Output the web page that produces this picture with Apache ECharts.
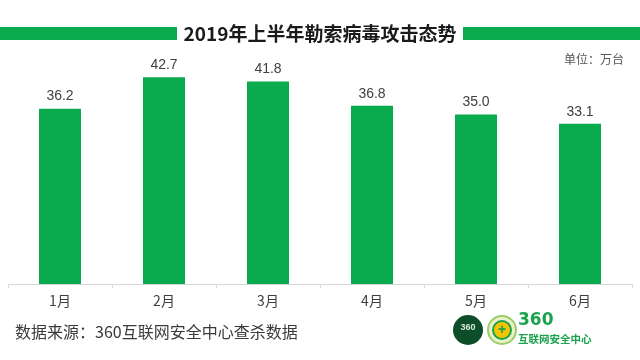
<!DOCTYPE html>
<html>
<head>
<meta charset="utf-8">
<script src="https://cdn.jsdelivr.net/npm/echarts@6/dist/echarts.min.js"></script>
<style>
html,body{margin:0;padding:0;background:#fff;}
#c{width:640px;height:360px;}
</style>
</head>
<body>
<div id="c"></div>
<script>
var titleText = '2019年上半年勒索病毒攻击态势';
var unitText = '单位：万台';
var sourceText = '数据来源：360互联网安全中心查杀数据';
var categories = ['1月','2月','3月','4月','5月','6月'];
var values = [36.2, 42.7, 41.8, 36.8, 35.0, 33.1];

var GREEN = '#0AAA4E';
var chart = echarts.init(document.getElementById('c'), null, {renderer:'canvas'});
var CJK = '"Noto Sans CJK SC","Noto Sans",sans-serif';
chart.setOption({
  backgroundColor:'#fff',
  animation:false,
  grid:{left:8,right:8,top:66,bottom:76},
  xAxis:{
    type:'category',
    data:categories,
    axisLine:{lineStyle:{color:'#d9d9d9',width:1}},
    axisTick:{show:true,length:4,lineStyle:{color:'#d9d9d9'}},
    axisLabel:{color:'#404040',fontSize:14,margin:10,fontFamily:CJK}
  },
  yAxis:{type:'value',min:0,max:45,show:false,splitLine:{show:false}},
  series:[{
    type:'bar',
    data:values,
    barWidth:42,
    itemStyle:{color:GREEN},
    label:{show:true,position:'top',distance:5,color:'#404040',fontSize:14,fontFamily:'"Liberation Sans",sans-serif',
      formatter:function(p){return p.value.toFixed(1);}}
  }],
  graphic:[
    {type:'rect',left:0,top:27,shape:{width:177,height:13},style:{fill:GREEN}},
    {type:'rect',left:463,top:27,shape:{width:177,height:13},style:{fill:GREEN}},
    {type:'text',x:320,y:34,style:{text:titleText,fill:'#1a1a1a',font:'bold 19px '+CJK,textAlign:'center',textVerticalAlign:'middle'}},
    {type:'text',x:624,y:59,style:{text:unitText,fill:'#555',font:'12px '+CJK,textAlign:'right',textVerticalAlign:'middle'}},
    {type:'text',x:15,y:332,style:{text:sourceText,fill:'#3a3a3a',font:'16px '+CJK,textAlign:'left',textVerticalAlign:'middle'}},
    {type:'circle',shape:{cx:468,cy:330,r:15},style:{fill:'#0E4D2A'}},
    {type:'text',x:468,y:328,style:{text:'360',fill:'#cfe8d6',font:'bold 9px sans-serif',textAlign:'center',textVerticalAlign:'middle'}},
    {type:'circle',shape:{cx:502,cy:330,r:14},style:{fill:'#e9f2c8',stroke:'#9ccc65',lineWidth:2}},
    {type:'circle',shape:{cx:502,cy:330,r:9},style:{fill:'#f2c500',stroke:'#1aa24c',lineWidth:2}},
    {type:'text',x:502,y:330,style:{text:'+',fill:'#1aa24c',font:'bold 14px sans-serif',textAlign:'center',textVerticalAlign:'middle'}},
    {type:'text',x:518,y:321,style:{text:'360',fill:'#1aa24c',font:'bold 17px "DejaVu Sans",sans-serif',textAlign:'left',textVerticalAlign:'middle'}},
    {type:'text',x:518,y:339,style:{text:'互联网安全中心',fill:'#1aa24c',font:'bold 10.5px '+CJK,textAlign:'left',textVerticalAlign:'middle'}}
  ]
});
</script>
</body>
</html>
